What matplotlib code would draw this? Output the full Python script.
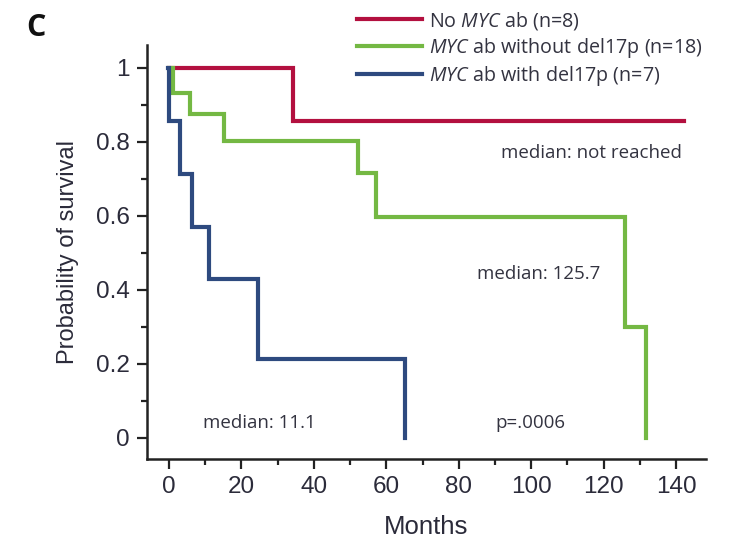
import matplotlib
matplotlib.use("Agg")
import matplotlib.pyplot as plt
from matplotlib.ticker import MultipleLocator

# Kaplan-Meier step data (months, survival probability)
no_myc_t = [0, 34.2, 142.3]
no_myc_s = [1.0, 0.857, 0.857]

myc_nodel_t = [0, 1.2, 5.8, 15.2, 52.3, 57.2, 125.9, 131.8]
myc_nodel_s = [1.0, 0.933, 0.875, 0.803, 0.715, 0.598, 0.30, 0.0]

myc_del_t = [-0.4, 0.0, 2.9, 6.3, 11.1, 24.6, 65.2]
myc_del_s = [1.0, 0.857, 0.714, 0.571, 0.429, 0.214, 0.0]

labels = ["No $\\it{MYC}$ ab (n=8)",
          "$\\it{MYC}$ ab without del17p (n=18)",
          "$\\it{MYC}$ ab with del17p (n=7)"]
colors = ["#B3103F", "#74B843", "#2E4A7F"]

x_ticks = [0, 20, 40, 60, 80, 100, 120, 140]
y_ticks = [0, 0.2, 0.4, 0.6, 0.8, 1.0]
y_ticklabels = ["0", "0.2", "0.4", "0.6", "0.8", "1"]

plt.rcParams["mathtext.fontset"] = "custom"
plt.rcParams["mathtext.it"] = "Open Sans:italic"
plt.rcParams["mathtext.rm"] = "Open Sans"

fig = plt.figure(figsize=(7.31, 5.44), dpi=100)
ax = fig.add_axes([147/731, 1-459/544, (706-147)/731, (459-45)/544])

lw = 3.0
series = [(no_myc_t, no_myc_s), (myc_nodel_t, myc_nodel_s), (myc_del_t, myc_del_s)]
handles = []
for (t, s), c, lab in zip(series, colors, labels):
    h, = ax.step(t, s, where="post", color=c, lw=lw, label=lab, solid_joinstyle="miter")
    handles.append(h)
ax.set_xlim(-6.1, 148.3)
ax.set_ylim(-0.057, 1.062)

for s in ["top", "right"]:
    ax.spines[s].set_visible(False)
for s in ["left", "bottom"]:
    ax.spines[s].set_linewidth(1.8)
    ax.spines[s].set_color("#222222")

ax.set_xticks(x_ticks)
ax.set_yticks(y_ticks)
ax.set_yticklabels(y_ticklabels)
ax.xaxis.set_minor_locator(MultipleLocator(10))
ax.yaxis.set_minor_locator(MultipleLocator(0.1))
ax.tick_params(which="major", length=7.5, width=1.6, color="#222222", direction="out",
               labelsize=17.5, labelcolor="#2b2b3a", pad=5)
ax.tick_params(which="minor", length=4.5, width=1.6, color="#222222", direction="out")
for lab in ax.get_xticklabels() + ax.get_yticklabels():
    lab.set_family(["Liberation Sans", "DejaVu Sans"])

ax.set_xlabel("Months", family=["Liberation Sans", "DejaVu Sans"], fontsize=18.5,
              color="#2b2b3a", labelpad=12)
ax.set_ylabel("Probability of survival", family=["Liberation Sans", "DejaVu Sans"],
              fontsize=17, color="#2b2b3a", labelpad=12)

ann_font = dict(family=["Open Sans", "DejaVu Sans"], fontsize=13.5, color="#333340")
ax.text(141.5, 0.77, "median: not reached", ha="right", va="center", **ann_font)
ax.text(102.0, 0.444, "median: 125.7", ha="center", va="center", **ann_font)
ax.text(25.0, 0.04, "median: 11.1", ha="center", va="center", **ann_font)
ax.text(99.8, 0.04, "p=.0006", ha="center", va="center", **ann_font)

leg = fig.legend(handles=handles, labels=labels, loc="upper left",
                 bbox_to_anchor=(349/731, 1-2/544), frameon=False,
                 prop=dict(family="Open Sans", size=14.2), handlelength=3.3,
                 handletextpad=0.35, labelspacing=0.2, borderaxespad=0)
for txt in leg.get_texts():
    txt.set_color("#333340")

fig.text(26/731, 1-28/544, "C", family=["Open Sans", "DejaVu Sans"], fontweight="bold",
         fontsize=22, va="center", ha="left", color="#111111")

fig.savefig("out.png", dpi=100)
